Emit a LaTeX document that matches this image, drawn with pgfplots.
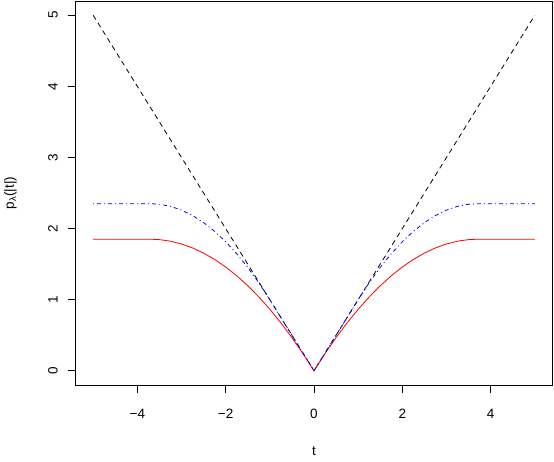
\documentclass[border=0pt]{standalone}
\usepackage{fontspec}
\setmainfont{Liberation Sans}
\usepackage{pgfplots}
\pgfplotsset{compat=1.18}
\begin{document}
\begin{tikzpicture}
\begin{axis}[
    at={(0pt,0pt)}, anchor=south west,
    scale only axis, width=477pt, height=384pt,
    xmin=-5.4, xmax=5.4, ymin=-0.2, ymax=5.2,
    axis line style={line width=0.8pt},
    xtick={-4,-2,0,2,4}, xticklabels={−4,−2,0,2,4},
    ytick={0,1,2,3,4,5}, yticklabels={0,1,2,3,4,5},
    tick align=outside, tick pos=left,
    major tick length=7.5pt,
    tick style={line width=0.8pt, black},
    xticklabel style={font=\fontsize{13.5}{15}\selectfont, anchor=center},
    xticklabel shift=21pt,
    yticklabel style={font=\fontsize{13.5}{15}\selectfont, anchor=center, rotate=90},
    yticklabel shift=15pt,
    xlabel={t}, ylabel={p\textsubscript{λ}(|t|)},
    every axis x label/.style={at={(rel axis cs:0.5,0)}, anchor=center, yshift=-66pt, font=\fontsize{13.5}{15}\selectfont},
    every axis y label/.style={at={(rel axis cs:0,0.5)}, anchor=center, xshift=-65pt, rotate=90, font=\fontsize{13.5}{15}\selectfont},
]
% |t|
\addplot[black, line width=0.8pt, dash pattern=on 5pt off 4pt] coordinates {
    (-5,5) (0,0) (5,5)
};
% MCP, lambda = 1, gamma = 3.7
\addplot[red, line width=0.8pt] coordinates {
    (-5,1.85) (-3.7,1.85) (-3.5,1.8446) (-3.25,1.8226) (-3,1.7838) (-2.75,1.7280)
    (-2.5,1.6554) (-2.25,1.5659) (-2,1.4595) (-1.75,1.3361) (-1.5,1.1959)
    (-1.25,1.0389) (-1,0.8649) (-0.75,0.6740) (-0.5,0.4662) (-0.25,0.2416) (0,0)
    (0.25,0.2416) (0.5,0.4662) (0.75,0.6740) (1,0.8649) (1.25,1.0389) (1.5,1.1959)
    (1.75,1.3361) (2,1.4595) (2.25,1.5659) (2.5,1.6554) (2.75,1.7280) (3,1.7838)
    (3.25,1.8226) (3.5,1.8446) (3.7,1.85) (5,1.85)
};
% SCAD, lambda = 1, a = 3.7
\addplot[blue, line width=0.8pt, dash pattern=on 1pt off 3pt on 4pt off 3pt] coordinates {
    (-5,2.35) (-3.7,2.35) (-3.5,2.3426) (-3.25,2.3125) (-3,2.2593) (-2.75,2.1829)
    (-2.5,2.0833) (-2.25,1.9606) (-2,1.8148) (-1.75,1.6458) (-1.5,1.4537)
    (-1.25,1.2384) (-1,1) (0,0) (1,1) (1.25,1.2384) (1.5,1.4537) (1.75,1.6458)
    (2,1.8148) (2.25,1.9606) (2.5,2.0833) (2.75,2.1829) (3,2.2593) (3.25,2.3125)
    (3.5,2.3426) (3.7,2.35) (5,2.35)
};
\end{axis}
\pgfresetboundingbox
\path[use as bounding box] (-75.5pt,-76pt) rectangle (478.5pt,385pt);
\end{tikzpicture}
\end{document}
